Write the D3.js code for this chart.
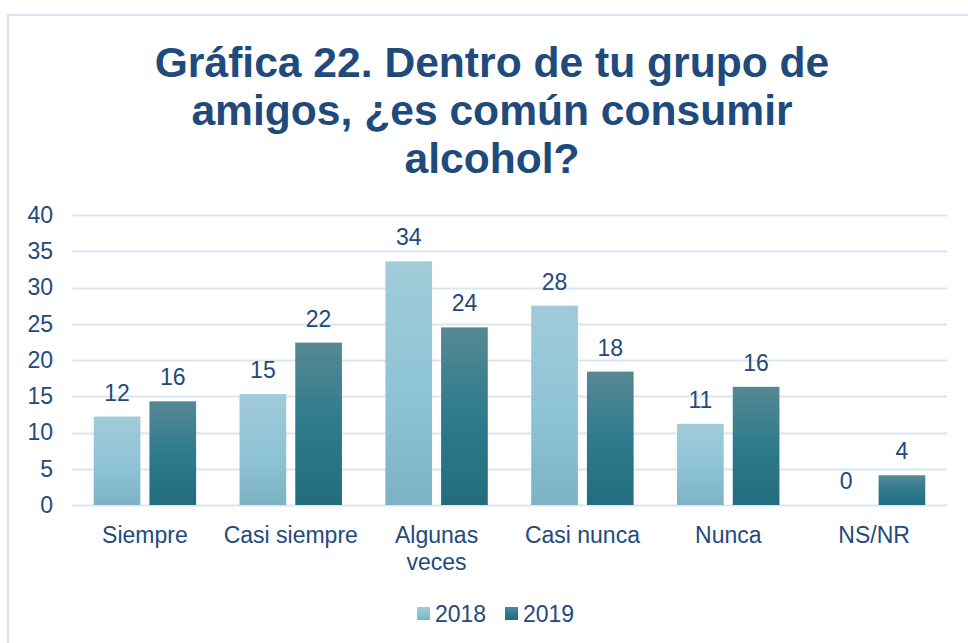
<!DOCTYPE html>
<html>
<head>
<meta charset="utf-8">
<script src="https://cdn.jsdelivr.net/npm/d3@7/dist/d3.min.js"></script>
<style>
  html, body { margin: 0; padding: 0; background: #ffffff; }
  svg { display: block; }
  text { font-family: "Liberation Sans", Arial, sans-serif; }
</style>
</head>
<body>
<svg id="chart" width="968" height="643"></svg>
<script>
// ---- data ----
const titleLines = ["Gráfica 22. Dentro de tu grupo de", "amigos, ¿es común consumir", "alcohol?"];
const categories = ["Siempre", "Casi siempre", "Algunas veces", "Casi nunca", "Nunca", "NS/NR"];
const seriesNames = ["2018", "2019"];
const values2018 = [12.2, 15.3, 33.6, 27.5, 11.2, 0];
const values2019 = [14.3, 22.4, 24.5, 18.4, 16.3, 4.1];
const labels2018 = ["12", "15", "34", "28", "11", "0"];
const labels2019 = ["16", "22", "24", "18", "16", "4"];
const yTicks = [0, 5, 10, 15, 20, 25, 30, 35, 40];

const textColor = "#234a7c";
const gridColor = "#d9e5f3";

const svg = d3.select("#chart");

// gradients
const defs = svg.append("defs");
function grad(id, stops) {
  const g = defs.append("linearGradient").attr("id", id)
    .attr("x1", 0).attr("y1", 0).attr("x2", 0).attr("y2", 1);
  stops.forEach(s => g.append("stop").attr("offset", s[0]).attr("stop-color", s[1]));
}
grad("g2018", [[0, "#a1cbd9"], [0.5, "#90c4d7"], [1, "#7db1c4"]]);
grad("g2019", [[0, "#578894"], [0.5, "#2e7b8d"], [1, "#226c7e"]]);
const fills = ["url(#g2018)", "url(#g2019)"];

// outer border
svg.append("rect").attr("x", 8).attr("y", 15).attr("width", 1000).attr("height", 700)
  .attr("fill", "none").attr("stroke", gridColor).attr("stroke-width", 2);

// title
const title = svg.append("text").attr("text-anchor", "middle")
  .attr("fill", "#1f4a7c").attr("font-weight", "bold").attr("font-size", 42.6);
titleLines.forEach((l, i) => {
  title.append("tspan").attr("x", 492).attr("y", 77 + i * 48).text(l);
});

// scales
const x0 = d3.scaleBand().domain(categories).range([72, 947]).paddingInner(0).paddingOuter(0);
const x1 = d3.scaleBand().domain(seriesNames).range([0, x0.bandwidth()]).paddingInner(0.162).paddingOuter(0.39);
const y = d3.scaleLinear().domain([0, 40]).range([505, 215]);

// gridlines
svg.append("g").selectAll("line").data(yTicks).join("line")
  .attr("x1", 72).attr("x2", 947)
  .attr("y1", d => Math.round(y(d)) + 0.5).attr("y2", d => Math.round(y(d)) + 0.5)
  .attr("stroke", gridColor).attr("stroke-width", 2);

// y axis labels
const yAxis = d3.axisLeft(y).tickValues(yTicks).tickSize(0).tickPadding(0);
const yg = svg.append("g").attr("transform", "translate(53,0)").call(yAxis);
yg.select(".domain").remove();
yg.selectAll("text").attr("fill", textColor).attr("font-size", 23)
  .attr("font-family", "'Liberation Sans', Arial, sans-serif");

// bars
const rows = categories.map((c, i) => ({
  cat: c,
  items: [
    { s: seriesNames[0], v: values2018[i], l: labels2018[i], k: 0 },
    { s: seriesNames[1], v: values2019[i], l: labels2019[i], k: 1 }
  ]
}));

const groups = svg.append("g").selectAll("g").data(rows).join("g")
  .attr("transform", d => `translate(${x0(d.cat)},0)`);

groups.selectAll("rect").data(d => d.items).join("rect")
  .attr("x", d => x1(d.s))
  .attr("width", x1.bandwidth())
  .attr("y", d => y(d.v))
  .attr("height", d => y(0) - y(d.v))
  .attr("fill", d => fills[d.k]);

groups.selectAll("text").data(d => d.items).join("text")
  .attr("x", d => x1(d.s) + x1.bandwidth() / 2)
  .attr("y", d => y(d.v) - 16)
  .attr("text-anchor", "middle")
  .attr("fill", textColor).attr("font-size", 23)
  .text(d => d.l);

// x axis labels
const xAxis = d3.axisBottom(x0).tickSize(0).tickPadding(0);
const xg = svg.append("g").call(xAxis);
xg.select(".domain").remove();
xg.selectAll("text").remove();
xg.selectAll(".tick").each(function (d) {
  const t = d3.select(this).append("text")
    .attr("text-anchor", "middle").attr("fill", textColor).attr("font-size", 23)
    .attr("font-family", "'Liberation Sans', Arial, sans-serif");
  const words = d.split(" ");
  let line = [], lines = [];
  const probe = t.append("tspan");
  words.forEach(w => {
    const test = line.concat([w]).join(" ");
    probe.text(test);
    if (probe.node().getComputedTextLength() > x0.bandwidth() - 6 && line.length) {
      lines.push(line.join(" "));
      line = [w];
    } else line.push(w);
  });
  lines.push(line.join(" "));
  probe.remove();
  lines.forEach((l, i) => t.append("tspan").attr("x", 0).attr("y", 543 + i * 27).text(l));
});

// legend
const legend = svg.append("g");
const legX = [417, 505];
seriesNames.forEach((s, i) => {
  legend.append("rect").attr("x", legX[i]).attr("y", 607).attr("width", 13).attr("height", 13)
    .attr("fill", fills[i]);
  legend.append("text").attr("x", legX[i] + 18).attr("y", 622)
    .attr("fill", textColor).attr("font-size", 23).text(s);
});
</script>
</body>
</html>
